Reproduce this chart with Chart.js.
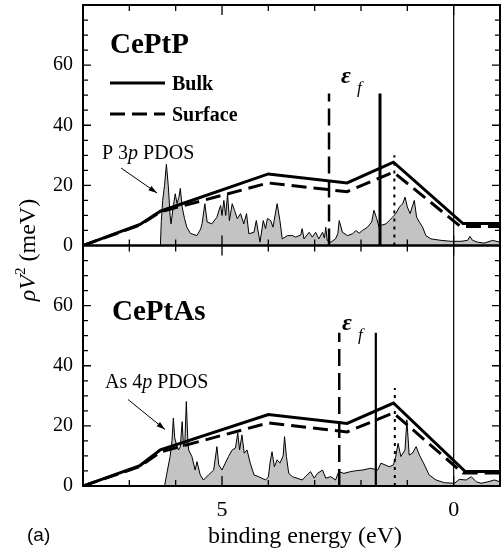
<!doctype html>
<html>

<head>
	<title>CePtP / CePtAs hybridization</title>
	<script src="https://cdn.jsdelivr.net/npm/chart.js@4/dist/chart.umd.min.js"></script>
	<style type="text/css">
		body { margin: 0; background: #fff; }
		canvas { display: block; }
	</style>
</head>

<body>
	<canvas id="canvas" width="501" height="553"></canvas>
	<script>
		// binding energy (eV) and rho V^2 (meV)
		var ceptpBulkE = [8, 6.77, 6.33, 4.0, 2.3, 1.3, -0.2, -1];
		var ceptpBulkV = [0, 7.0, 11.4, 23.8, 20.8, 27.7, 7.3, 7.3];
		var ceptpSurfE = [8, 6.77, 6.33, 4.0, 2.3, 1.3, -0.15, -1];
		var ceptpSurfV = [0, 6.8, 11.2, 20.8, 17.9, 24.4, 6.3, 6.3];

		var ceptasBulkE = [8, 6.77, 6.33, 4.0, 2.3, 1.3, -0.25, -1];
		var ceptasBulkV = [0, 6.8, 12.0, 23.8, 20.8, 27.6, 4.8, 4.8];
		var ceptasSurfE = [8, 6.77, 6.33, 4.0, 2.3, 1.3, -0.2, -1];
		var ceptasSurfV = [0, 6.5, 11.3, 21.0, 18.0, 24.3, 4.3, 4.3];

		var ceptpPdosE = [8, 6.33, 6.31, 6.28, 6.24, 6.20, 6.16, 6.12, 6.10, 6.06, 6.01, 5.97, 5.93, 5.90, 5.86, 5.81, 5.76, 5.68, 5.54, 5.46,
			5.43, 5.37, 5.32, 5.22, 5.11, 5.06, 5.03, 5.00, 4.96, 4.92, 4.88, 4.84, 4.78, 4.73, 4.67, 4.60, 4.53, 4.47, 4.42, 4.31,
			4.26, 4.18, 4.11, 4.06, 4.02, 3.95, 3.90, 3.81, 3.75, 3.70, 3.59, 3.48, 3.41, 3.30, 3.27, 3.23, 3.12, 3.05, 2.98, 2.91,
			2.83, 2.79, 2.76, 2.73, 2.65, 2.55, 2.50, 2.47, 2.40, 2.29, 2.18, 2.11, 2.04, 1.97, 1.86, 1.77, 1.72, 1.66, 1.61, 1.57,
			1.46, 1.39, 1.32, 1.25, 1.17, 1.10, 1.05, 1.00, 0.94, 0.85, 0.80, 0.74, 0.67, 0.60, 0.49, 0.27, 0.06, -0.16, -0.30, -0.35,
			-0.41, -0.52, -0.66, -0.84, -1.0];
		var ceptpPdosV = [0, 0, 8, 15, 20, 27, 20, 10, 7.2, 12, 17.2, 14, 16, 19, 12.8, 9, 6.1, 4, 3.3, 5.5,
			7.3, 13.9, 7.8, 7.2, 9.4, 12, 13.3, 10, 15, 10, 17.2, 8.3, 13.9, 11.7, 8.9, 10.6, 7.2, 10.6, 3.9, 4.4,
			8.3, 1.1, 8.3, 5.6, 9, 8.3, 6.1, 13.9, 8.3, 2.2, 3.3, 3.3, 2.8, 3.5, 5.6, 2.2, 4.4, 2.8, 4.4, 2.2,
			4.4, 2.5, 6.1, 1.7, 1.1, 2.2, 4, 8.3, 4.4, 3.3, 3.9, 5, 4.1, 5, 6.1, 7.8, 11.7, 8.9, 6.1, 6.7,
			7.2, 8.3, 9.4, 10.6, 12.8, 13.9, 16.1, 12.8, 10.6, 15, 9.4, 7.8, 6.1, 3.3, 2.2, 1.7, 1.4, 1.4, 1.7, 3,
			1.7, 1.1, 0.8, 1.7, 1.1];

		var ceptasPdosE = [8, 6.24, 6.18, 6.12, 6.08, 6.05, 6.02, 5.99, 5.94, 5.90, 5.86, 5.83, 5.80, 5.77, 5.74, 5.72, 5.65, 5.58, 5.54, 5.47,
			5.40, 5.29, 5.18, 5.11, 5.07, 5.00, 4.93, 4.86, 4.78, 4.71, 4.66, 4.62, 4.57, 4.52, 4.46, 4.39, 4.31, 4.21, 4.06, 4.00,
			3.96, 3.92, 3.87, 3.81, 3.75, 3.68, 3.65, 3.61, 3.56, 3.48, 3.38, 3.27, 3.20, 3.09, 3.01, 2.94, 2.83, 2.76, 2.65, 2.55,
			2.48, 2.37, 2.22, 2.10, 1.97, 1.79, 1.64, 1.57, 1.39, 1.30, 1.25, 1.20, 1.14, 1.05, 1.01, 0.96, 0.89, 0.81, 0.74, 0.63,
			0.53, 0.38, 0.20, -0.02, -0.12, -0.27, -0.38, -0.49, -0.59, -0.74, -0.88, -1.0];
		var ceptasPdosV = [0, 0, 5, 9.8, 15, 22.6, 16, 14.2, 12, 13, 21.4, 13.1, 15, 28.1, 16, 12, 9.8, 5.3, 8.1, 3.7,
			2, 3.7, 5.3, 13.1, 7, 5.3, 7.6, 9.8, 12, 12.6, 17.6, 12, 17, 10.9, 12, 7.6, 3.7, 3.1, 2, 3,
			8, 11.4, 6.4, 8.7, 7.6, 10, 16.4, 9.8, 4.2, 3.1, 2.6, 2, 3.1, 4.8, 2.6, 4.2, 5.3, 2.6, 3.1, 2,
			4.8, 4.2, 4.8, 5.1, 5.3, 5.9, 5.3, 7.6, 6.4, 7, 9.8, 14.2, 9.8, 12, 22, 10.3, 10.9, 13.1, 10.3, 7,
			3.7, 2, 1.1, 0.9, 2.2, 2, 3.1, 1.4, 0.9, 1.4, 2, 1.4];

		// epsilon_f markers: [CePtP, CePtAs]
		var efSurfaceE = [2.69, 2.47];
		var efBulkE = [1.59, 1.68];
		var efHeight = [50.6, 51];
		var peakE = [1.28, 1.27];
		var peakHeight = [30, 32.6];

		var yTicks = [0, 20, 40, 60];
		var xTicks = [5, 0];

		var serif = "'Liberation Serif', 'Times New Roman', serif";

		function pts(xs, ys) {
			return xs.map(function(x, i) { return {x: x, y: ys[i]}; });
		}
		function vline(e, h) {
			return [{x: e, y: 0}, {x: e, y: h}];
		}

		function panelSets(axis, i, pdosE, pdosV, bulkE, bulkV, surfE, surfV) {
			return [{
				yAxisID: axis, data: vline(efBulkE[i], efHeight[i]),
				borderColor: '#000', borderWidth: i === 0 ? 3 : 2.2, order: 0
			}, {
				yAxisID: axis, data: vline(efSurfaceE[i], efHeight[i]),
				borderColor: '#000', borderWidth: 2.5, borderDash: [17, 7], order: 0
			}, {
				yAxisID: axis, data: vline(peakE[i], peakHeight[i]),
				borderColor: '#000', borderWidth: 2, borderDash: [3, 5], order: 0
			}, {
				yAxisID: axis, data: pts(bulkE, bulkV),
				borderColor: '#000', borderWidth: 3, order: 1
			}, {
				yAxisID: axis, data: pts(surfE, surfV),
				borderColor: '#000', borderWidth: 3, borderDash: [15, 7], order: 2
			}, {
				yAxisID: axis, data: pts(pdosE, pdosV),
				borderColor: '#000', borderWidth: 1, backgroundColor: '#c3c3c3', fill: 'origin', order: 5
			}];
		}

		function noPad(s) {
			s.paddingTop = 0;
			s.paddingBottom = 0;
			s.paddingLeft = 0;
			s.paddingRight = 0;
		}

		function yScale(weight) {
			return {
				type: 'linear', position: 'left', stack: 'panels', stackWeight: 1, weight: weight,
				min: 0, max: 80,
				grid: {display: false, drawTicks: false},
				border: {display: false},
				afterBuildTicks: function(s) { s.ticks = yTicks.map(function(v) { return {value: v}; }); },
				ticks: {color: '#000', padding: 10, font: {family: serif, size: 20}},
				afterFit: function(s) { s.width = 83; noPad(s); }
			};
		}

		// frame, inward ticks, labels drawn on top of the plot
		var decorations = {
			id: 'decorations',
			afterDraw: function(chart) {
				var ctx = chart.ctx;
				var area = chart.chartArea;
				var x = chart.scales.x;
				var panels = [chart.scales.yTop, chart.scales.yBot];
				ctx.save();
				ctx.strokeStyle = '#000';
				ctx.fillStyle = '#000';

				// zero of binding energy
				var x0 = x.getPixelForValue(0);
				ctx.lineWidth = 1.2;
				ctx.beginPath();
				ctx.moveTo(x0, area.top);
				ctx.lineTo(x0, area.bottom);
				ctx.stroke();

				panels.forEach(function(s) {
					ctx.lineWidth = 2;
					ctx.strokeRect(area.left, s.top, area.right - area.left, s.bottom - s.top);
					ctx.lineWidth = 1.3;
					ctx.beginPath();
					for (var v = 5; v < 80; v += 5) {
						var py = s.getPixelForValue(v);
						var len = v % 20 === 0 ? 8 : 5;
						ctx.moveTo(area.left, py); ctx.lineTo(area.left + len, py);
						ctx.moveTo(area.right, py); ctx.lineTo(area.right - len, py);
					}
					for (var e = 7; e >= 0; e--) {
						var px = x.getPixelForValue(e);
						var l2 = (e === 5 || e === 0) ? 10 : 6;
						ctx.moveTo(px, s.top); ctx.lineTo(px, s.top + l2);
						ctx.moveTo(px, s.bottom); ctx.lineTo(px, s.bottom - l2);
					}
					ctx.stroke();
				});

				var top = panels[0].top, bot = panels[1].top;

				// compound names
				ctx.textBaseline = 'alphabetic';
				ctx.textAlign = 'left';
				ctx.font = 'bold 29px ' + serif;
				ctx.fillText('CePtP', 110, top + 48);
				ctx.fillText('CePtAs', 112, bot + 74);

				// legend
				ctx.lineWidth = 3;
				ctx.beginPath();
				ctx.moveTo(110, top + 78); ctx.lineTo(165, top + 78);
				ctx.stroke();
				ctx.setLineDash([15, 7]);
				ctx.beginPath();
				ctx.moveTo(110, top + 109); ctx.lineTo(165, top + 109);
				ctx.stroke();
				ctx.setLineDash([]);
				ctx.font = 'bold 20px ' + serif;
				ctx.fillText('Bulk', 172, top + 85);
				ctx.fillText('Surface', 172, top + 116);

				// epsilon_f
				function epsF(px, base) {
					ctx.font = 'bold italic 24px ' + serif;
					ctx.fillText('\u03b5', px, base);
					ctx.font = 'italic 17px ' + serif;
					ctx.fillText('f', px + 16, base + 10);
				}
				epsF(341, top + 78);
				epsF(342, bot + 84);

				// PDOS labels with arrows
				function label(parts, px, base) {
					parts.forEach(function(p) {
						ctx.font = (p[1] ? 'italic ' : '') + '20px ' + serif;
						ctx.fillText(p[0], px, base);
						px += ctx.measureText(p[0]).width;
					});
				}
				label([['P 3', 0], ['p', 1], [' PDOS', 0]], 102, top + 154);
				label([['As 4', 0], ['p', 1], [' PDOS', 0]], 105, bot + 142);

				function arrow(x1, y1, x2, y2) {
					var a = Math.atan2(y2 - y1, x2 - x1);
					ctx.lineWidth = 1;
					ctx.beginPath();
					ctx.moveTo(x1, y1); ctx.lineTo(x2, y2);
					ctx.stroke();
					ctx.beginPath();
					ctx.moveTo(x2, y2);
					ctx.lineTo(x2 - 9 * Math.cos(a - 0.3), y2 - 9 * Math.sin(a - 0.3));
					ctx.lineTo(x2 - 9 * Math.cos(a + 0.3), y2 - 9 * Math.sin(a + 0.3));
					ctx.closePath();
					ctx.fill();
				}
				arrow(121, top + 163, 157, top + 188);
				arrow(128, bot + 154, 165, bot + 184);

				// axis titles
				ctx.textAlign = 'center';
				ctx.font = '24px ' + serif;
				ctx.fillText('binding energy (eV)', 305, 543);
				ctx.textAlign = 'left';
				ctx.font = '19px "Liberation Sans", Arial, sans-serif';
				ctx.fillText('(a)', 27, 541);

				ctx.translate(35, 250);
				ctx.rotate(-Math.PI / 2);
				var parts = [['\u03c1V', 'italic 24px ', 0], ['2', '15px ', -10], [' (meV)', '24px ', 0]];
				var w = 0;
				parts.forEach(function(p) { ctx.font = p[1] + serif; w += ctx.measureText(p[0]).width; });
				var cx = -w / 2;
				parts.forEach(function(p) {
					ctx.font = p[1] + serif;
					ctx.fillText(p[0], cx, p[2]);
					cx += ctx.measureText(p[0]).width;
				});
				ctx.restore();
			}
		};

		window.onload = function() {
			var ctx = document.getElementById('canvas').getContext('2d');
			var datasets = panelSets('yTop', 0, ceptpPdosE, ceptpPdosV, ceptpBulkE, ceptpBulkV, ceptpSurfE, ceptpSurfV)
				.concat(panelSets('yBot', 1, ceptasPdosE, ceptasPdosV, ceptasBulkE, ceptasBulkV, ceptasSurfE, ceptasSurfV));
			window.myChart = new Chart(ctx, {
				type: 'line',
				data: {datasets: datasets},
				plugins: [decorations],
				options: {
					responsive: false,
					animation: false,
					layout: {padding: {top: 5, right: 1, left: 0, bottom: 0}},
					elements: {point: {radius: 0}, line: {tension: 0}},
					plugins: {legend: {display: false}, tooltip: {enabled: false}},
					scales: {
						x: {
							type: 'linear', reverse: true, min: -1, max: 8,
							grid: {display: false, drawTicks: false},
							border: {display: false},
							afterBuildTicks: function(s) { s.ticks = xTicks.map(function(v) { return {value: v}; }); },
							ticks: {color: '#000', padding: 11, maxRotation: 0, autoSkip: false, font: {family: serif, size: 22}},
							afterFit: function(s) { s.height = 67; noPad(s); }
						},
						yTop: yScale(2),
						yBot: yScale(1)
					}
				}
			});
		};
	</script>
</body>

</html>
